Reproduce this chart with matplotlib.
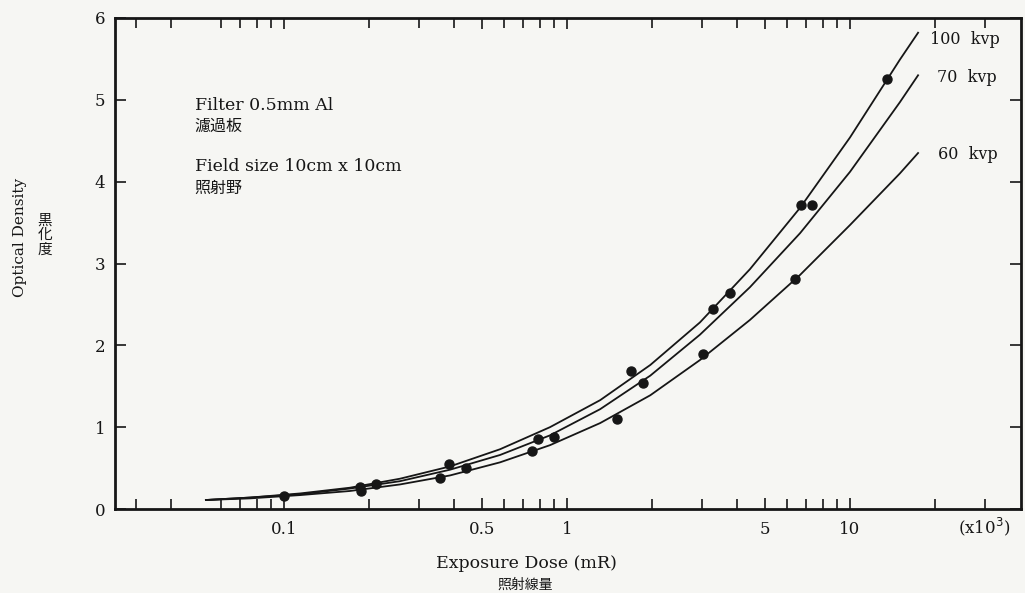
import matplotlib.pyplot as plt
from matplotlib.ticker import FixedLocator, NullFormatter

# measured points (exposure in mR x10^3, optical density)
dot_100_x = [0.10, 0.186, 0.384, 0.788, 1.69, 3.29, 6.70, 13.5]
dot_100_y = [0.16, 0.27, 0.55, 0.86, 1.69, 2.44, 3.72, 5.26]
dot_70_x = [0.211, 0.439, 0.902, 1.85, 3.77, 7.36]
dot_70_y = [0.305, 0.50, 0.88, 1.54, 2.64, 3.71]
dot_60_x = [0.187, 0.356, 0.754, 1.505, 3.03, 6.39]
dot_60_y = [0.22, 0.38, 0.71, 1.10, 1.89, 2.81]

# fitted curves at the same exposures
curve_x = [0.053, 0.076, 0.114, 0.171, 0.257, 0.386, 0.580, 0.871,
           1.31, 1.97, 2.95, 4.43, 6.66, 10.0, 15.0, 17.4]
curve_100_y = [0.11, 0.14, 0.19, 0.26, 0.37, 0.52, 0.73, 1.00,
               1.33, 1.76, 2.28, 2.93, 3.68, 4.54, 5.49, 5.82]
curve_70_y = [0.11, 0.14, 0.18, 0.25, 0.34, 0.48, 0.66, 0.90,
              1.22, 1.63, 2.13, 2.71, 3.37, 4.12, 4.97, 5.30]
curve_60_y = [0.11, 0.13, 0.17, 0.22, 0.30, 0.41, 0.57, 0.78,
              1.05, 1.39, 1.82, 2.31, 2.86, 3.47, 4.10, 4.35]

curve_labels = ["100  kvp", "70  kvp", "60  kvp"]
major_ticks = [0.1, 0.5, 1, 5, 10]
major_labels = ["0.1", "0.5", "1", "5", "10"]
minor_ticks = [0.03, 0.04, 0.06, 0.07, 0.08, 0.09, 0.2, 0.3, 0.4, 0.6, 0.7, 0.8, 0.9,
               2, 3, 4, 6, 7, 8, 9, 20, 30]

serif = ["DejaVu Serif", "Noto Sans CJK JP"]
cjk = ["Noto Sans CJK JP", "DejaVu Sans"]
ink = "#161616"
paper = "#f6f6f3"

fig = plt.figure(figsize=(10.25, 5.93), dpi=100, facecolor=paper)
ax = fig.add_axes([115 / 1025, 84 / 593, 906 / 1025, 491 / 593])
ax.set_facecolor(paper)

series = [(curve_100_y, dot_100_x, dot_100_y),
          (curve_70_y, dot_70_x, dot_70_y),
          (curve_60_y, dot_60_x, dot_60_y)]
label_pos = [(0.900, 0.957), (0.907, 0.878), (0.908, 0.723)]
for (cy, dx, dy), lab, (lx, ly) in zip(series, curve_labels, label_pos):
    ax.plot(curve_x, cy, color=ink, lw=1.3)
    ax.plot(dx, dy, "o", color=ink, ms=6.5, mec=ink)
    ax.text(lx, ly, lab, transform=ax.transAxes, fontsize=11.5, family=serif,
            color=ink, va="center")

ax.set_xscale("log")
ax.set_xlim(0.0253, 40.2)
ax.set_ylim(0, 6)

ax.xaxis.set_major_locator(FixedLocator(major_ticks))
ax.xaxis.set_minor_locator(FixedLocator(minor_ticks))
ax.xaxis.set_minor_formatter(NullFormatter())
ax.set_xticklabels(major_labels)
ax.set_yticks(range(7))

ax.tick_params(which="both", direction="in", top=True, right=True, color=ink,
               labelcolor=ink, width=1.2, labelsize=12)
ax.tick_params(which="major", length=8)
ax.tick_params(which="minor", length=7)
ax.tick_params(axis="x", pad=9)
ax.tick_params(axis="y", pad=7)
for lbl in ax.get_xticklabels() + ax.get_yticklabels():
    lbl.set_family(serif)
for sp in ax.spines.values():
    sp.set_linewidth(2.0)
    sp.set_color(ink)

# notes inside the plot
ax.text(0.088, 0.822, "Filter 0.5mm Al", transform=ax.transAxes, fontsize=12.5,
        family=serif, color=ink, va="center")
ax.text(0.088, 0.779, "濾過板", transform=ax.transAxes, fontsize=11.5,
        family=cjk, color=ink, va="center")
ax.text(0.088, 0.697, "Field size 10cm x 10cm", transform=ax.transAxes, fontsize=12.5,
        family=serif, color=ink, va="center")
ax.text(0.088, 0.652, "照射野", transform=ax.transAxes, fontsize=11.5,
        family=cjk, color=ink, va="center")

# axis titles
fig.text(20 / 1025, 1 - 237 / 593, "Optical Density", rotation=90, fontsize=11,
         family=serif, color=ink, ha="center", va="center")
fig.text(45 / 1025, 1 - 235 / 593, "黒\n化\n度", fontsize=10.5, family=cjk,
         color=ink, ha="center", va="center", linespacing=1.05)
fig.text(526 / 1025, 1 - 563 / 593, "Exposure Dose (mR)", fontsize=12.5, family=serif,
         color=ink, ha="center", va="center")
fig.text(525 / 1025, 1 - 585 / 593, "照射線量", fontsize=10, family=cjk,
         color=ink, ha="center", va="center")
fig.text(984 / 1025, 1 - 527 / 593, r"(x10$^3$)", fontsize=12, family=serif,
         color=ink, ha="center", va="center")

fig.savefig("out.png", dpi=100, facecolor=paper)
